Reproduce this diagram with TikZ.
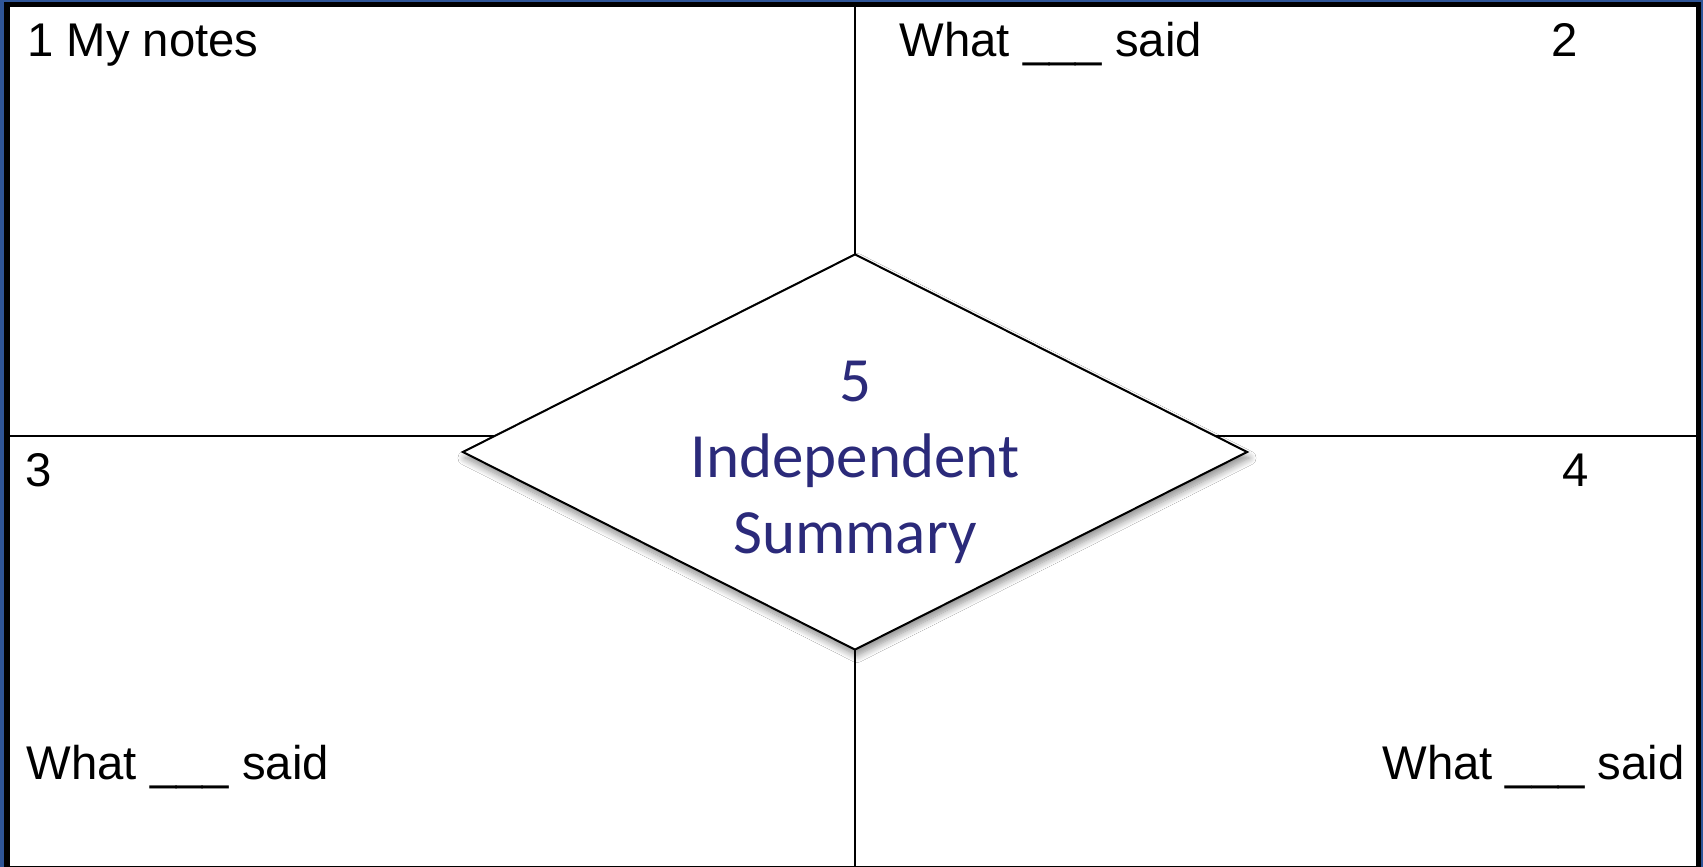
\documentclass[tikz,border=0pt]{standalone}
\usepackage{fontspec}
\setmainfont{Liberation Sans}
\newfontfamily\carl{Carlito}
\usetikzlibrary{shapes.geometric,shadows.blur}
\definecolor{bgblue}{RGB}{47,85,151}
\definecolor{navy}{RGB}{43,42,122}
\tikzset{
  lbl/.style={inner sep=0pt, font=\fontsize{47.3}{56}\selectfont, text=black},
  sumtxt/.style={inner sep=0pt, font=\carl\fontsize{63}{76}\selectfont, text=navy},
  gridline/.style={line width=2.2pt, draw=black},
  dia/.style={diamond, draw=black, line width=2pt, fill=white, inner sep=0pt,
    minimum width=785pt, minimum height=396pt,
    blur shadow={shadow xshift=2pt, shadow yshift=-6pt, shadow blur radius=7pt, shadow blur steps=10, shadow opacity=45}}
}
\begin{document}
\begin{tikzpicture}[x=1pt,y=-1pt]
\useasboundingbox (0,0) rectangle (1703,867);
\fill[bgblue] (0,0) rectangle (1703,867);
\clip (0,0) rectangle (1703,867);
\draw[line width=5.5pt, fill=white] (6.75,4.75) rectangle (1698.25,868.5);
% grid
\coordinate (vt) at (855,7);
\coordinate (vb) at (855,867);
\coordinate (hl) at (9,436);
\coordinate (hr) at (1696,436);
\draw[gridline] (vt) -- (vb);
\draw[gridline] (hl) -- (hr);
% diamond
\node[dia] (sum) at (855,452) {};
\node[sumtxt, anchor=base] (s1) at (855,401) {5};
\node[sumtxt, anchor=base] (s2) at (855,477) {Independent};
\node[sumtxt, anchor=base] (s3) at (855,553) {Summary};
% labels
\node[lbl, anchor=base west] (n1) at (27,57) {1 My notes};
\node[lbl, anchor=base west] (w2) at (899.5,57) {What \_\_\_ said};
\node[lbl, anchor=base] (n2) at (1564.5,57) {2};
\node[lbl, anchor=base west] (n3) at (25,486) {3};
\node[lbl, anchor=base] (n4) at (1576,486) {4};
\node[lbl, anchor=base west] (w3) at (26.5,779) {What \_\_\_ said};
\node[lbl, anchor=base east] (w4) at (1685,779) {What \_\_\_ said};
\end{tikzpicture}
\end{document}
